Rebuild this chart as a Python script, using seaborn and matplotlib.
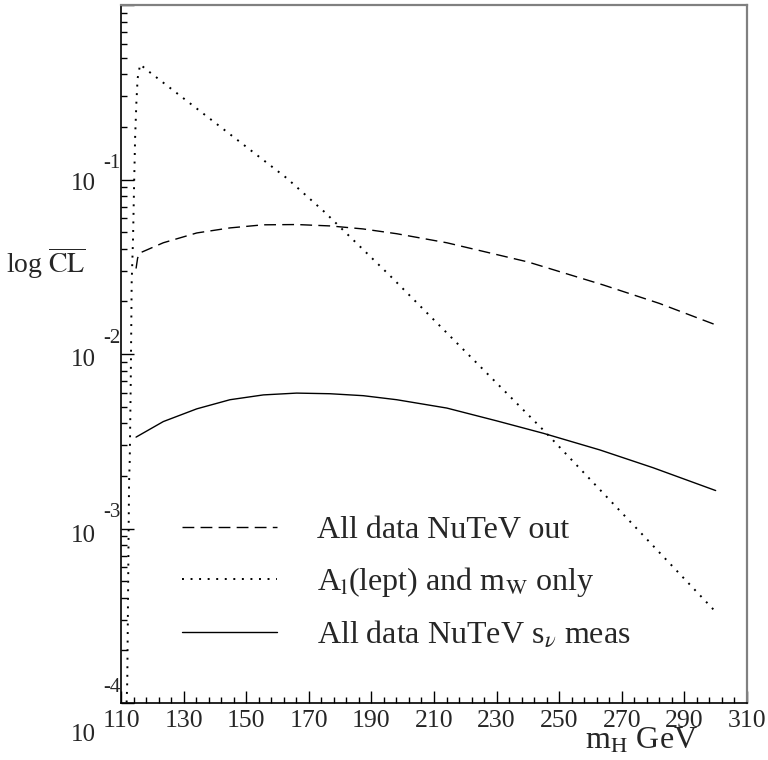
import numpy as np
import pandas as pd
import seaborn as sns
import matplotlib.pyplot as plt
from matplotlib import transforms
from matplotlib.ticker import FixedLocator, LogLocator, NullFormatter

# Values (m_H in GeV, CL on a log scale)
mh_nutev_out = [114.8, 115.3, 116.1, 123.5, 134.2, 144.8, 155.4, 166.1,
                176.8, 187.3, 198.1, 214.1, 240.0, 264.0, 282.0, 300.0]
cl_nutev_out = [0.0309, 0.0355, 0.0380, 0.0434, 0.0494, 0.0528, 0.0550, 0.0552,
                0.0542, 0.0521, 0.0489, 0.0434, 0.0337, 0.0249, 0.0195, 0.0147]

mh_lept_mw = [111.7, 112.0, 112.56, 112.78, 113.1, 113.4, 113.83, 114.15,
              114.5, 114.9, 115.3, 116.1, 118.2, 162.9, 175.0, 196.3, 245.5, 300.0]
cl_lept_mw = [9.0e-5, 1.35e-4, 1.82e-3, 2.45e-3, 6.84e-3, 0.0257, 0.0457, 0.0891,
              0.174, 0.275, 0.380, 0.457, 0.425, 0.102, 0.0652, 0.0277, 3.58e-3, 3.33e-4]

mh_nutev_meas = [114.8, 123.5, 134.2, 144.8, 155.5, 166.1, 176.8, 187.4,
                 198.1, 214.1, 230.0, 245.0, 263.0, 280.0, 300.0]
cl_nutev_meas = [0.00334, 0.00410, 0.00485, 0.00547, 0.00583, 0.00597, 0.00592,
                 0.00577, 0.00547, 0.00490, 0.00414, 0.00351, 0.00282, 0.00223, 0.00165]

labels = ["All data NuTeV out",
          r"A$_\mathrm{l}$(lept) and m$_\mathrm{W}$ only",
          r"All data NuTeV s$_\nu$ meas"]

x_ticks = [110, 130, 150, 170, 190, 210, 230, 250, 270, 290, 310]
decades = [-1, -2, -3, -4]

sns.set_style("white")
plt.rcParams["font.family"] = ["Liberation Serif", "DejaVu Serif"]
plt.rcParams["mathtext.fontset"] = "stix"

fig = plt.figure(figsize=(7.68, 7.6), dpi=100)
ax = fig.add_axes([0.1576, 0.075, 0.815, 0.9184])

sns.lineplot(x=mh_nutev_out, y=cl_nutev_out, ax=ax, color="black", lw=1.0,
             linestyle=(0, (8.5, 4.5)), label=labels[0])
sns.lineplot(x=mh_lept_mw, y=cl_lept_mw, ax=ax, color="black", lw=1.4,
             linestyle=(0, (1, 3.4)), label=labels[1])
sns.lineplot(x=mh_nutev_meas, y=cl_nutev_meas, ax=ax, color="black", lw=1.0,
             linestyle="-", label=labels[2])

ax.set_yscale("log")
ax.set_xlim(110, 310)
ax.set_ylim(1e-4, 1)

# ROOT-like axes: inward ticks, grey top/right frame
for side in ["left", "bottom"]:
    ax.spines[side].set_color("black")
    ax.spines[side].set_linewidth(1.2)
for side in ["top", "right"]:
    ax.spines[side].set_color("#808080")
    ax.spines[side].set_linewidth(1.6)

ax.set_xticks(x_ticks)
ax.set_xticklabels([str(v) for v in x_ticks], fontsize=18.5)
ax.xaxis.set_minor_locator(FixedLocator(np.arange(110, 311, 4)))
ax.yaxis.set_major_locator(LogLocator(base=10, numticks=10))
ax.yaxis.set_minor_locator(LogLocator(base=10, subs=np.arange(2, 10), numticks=20))
ax.yaxis.set_major_formatter(NullFormatter())
ax.yaxis.set_minor_formatter(NullFormatter())
ax.tick_params(axis="both", which="both", direction="in",
               left=True, bottom=True, top=False, right=False)
ax.tick_params(axis="both", which="major", length=9, width=1.0, color="black")
ax.tick_params(axis="both", which="minor", length=4.5, width=1.0, color="black")
ax.tick_params(axis="x", which="major", pad=5)

# y tick labels drawn as "10" plus a raised exponent, ROOT style
blend = transforms.blended_transform_factory(ax.transAxes, ax.transData)
mant_shift = {-1: -4, -2: -6, -3: -7, -4: -32}
for d in decades:
    t_m = transforms.offset_copy(blend, fig=fig, x=0, y=mant_shift[d], units="dots")
    ax.text(-0.041, 10.0 ** d, "10", transform=t_m, ha="right", va="center",
            fontsize=18, clip_on=False)
    t_e = transforms.offset_copy(blend, fig=fig, x=0, y=16, units="dots")
    ax.text(-0.029, 10.0 ** d, str(d), transform=t_e, ha="left", va="center",
            fontsize=15, clip_on=False)

ax.text(-0.12, 0.63, r"log $\overline{\mathrm{CL}}$", transform=ax.transAxes,
        ha="center", va="center", fontsize=20)
ax.text(0.922, -0.055, r"m$_\mathrm{H}$ GeV", transform=ax.transAxes,
        ha="right", va="center", fontsize=23)

ax.legend(loc="upper left", bbox_to_anchor=(0.0974, 0.268), frameon=False,
          fontsize=23, handlelength=2.97, handletextpad=1.25, labelspacing=0.63,
          borderpad=0, borderaxespad=0)

fig.savefig("out.png", dpi=100)
